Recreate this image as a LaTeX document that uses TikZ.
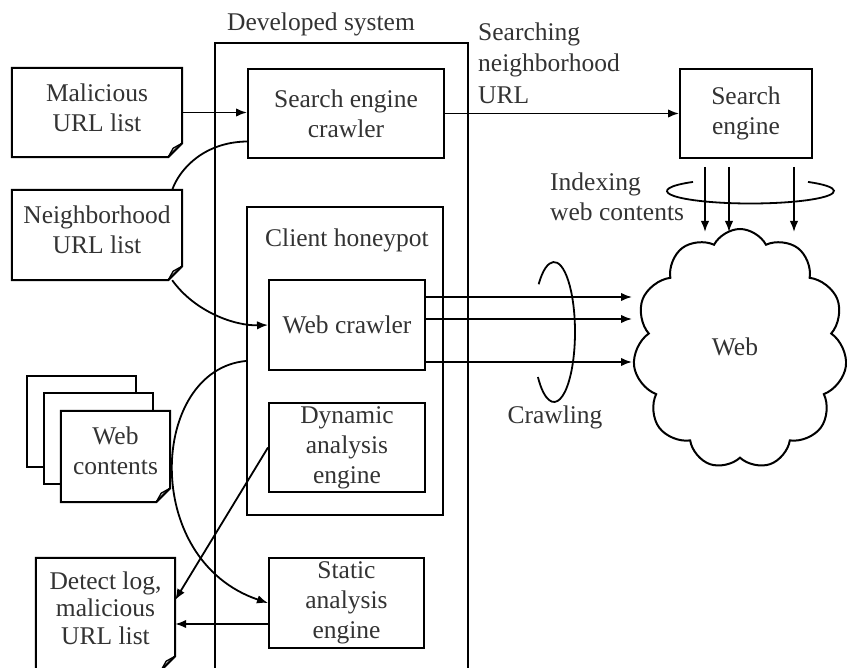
\documentclass[tikz,border=0pt]{standalone}
\usepackage{fontspec}
\setmainfont{Liberation Serif}
\usetikzlibrary{arrows.meta,shapes.symbols}
\begin{document}
\begin{tikzpicture}[x=1pt,y=-1pt,
  every node/.style={font=\fontsize{25.5}{30}\selectfont, text=black!80, align=center, inner sep=0pt},
  box/.style={draw, line width=2pt, text=black!80},
  sheet/.style={draw, line width=2pt, fill=white, minimum width=109pt, minimum height=91pt},
  ln/.style={line width=1.8pt},
  arr/.style={line width=1.8pt, -{Latex[length=11pt,width=8.5pt]}}]
\useasboundingbox (0,0) rectangle (847,668);
\clip (0,0) rectangle (847,668);

% containers
\node[box, minimum width=253pt, minimum height=657pt] (dev) at (341.5,371.5) {};
\node (devl) at (321,24) {Developed system};
\node[box, minimum width=196pt, minimum height=308pt] (hp) at (345,361) {};
\node (hpl) at (347,240) {Client honeypot};

% boxes
\node[box, minimum width=196pt, minimum height=89pt] (sec) at (346,113.5) {Search engine\\crawler};
\node[box, minimum width=156pt, minimum height=90pt] (wcr) at (347,325) {Web crawler};
\node[box, minimum width=156pt, minimum height=89pt] (dae) at (347,447.5) {Dynamic\\analysis\\engine};
\node[box, minimum width=155pt, minimum height=90pt] (sae) at (346.5,603) {Static\\analysis\\engine};
\node[box, minimum width=132pt, minimum height=89pt] (se) at (746,113.5) {Search\\engine};

% documents
\node[minimum width=170pt, minimum height=89pt] (mal) at (97,112.5) {};
\node[minimum width=170pt, minimum height=90pt] (nbr) at (97,235) {};
\node[sheet] (wcb1) at (81.5,421.5) {};
\node[sheet] (wcb2) at (98.5,438.5) {};
\node[minimum width=109pt, minimum height=91pt] (wcf) at (115.5,456.5) {};
\node[minimum width=139pt, minimum height=112pt] (det) at (105.5,614) {};
\foreach \n in {mal,nbr,wcf,det}{
  \draw[line width=2pt, fill=white, line join=miter] (\n.north west) -- (\n.north east) -- ([yshift=14pt]\n.south east) -- ([xshift=-14pt]\n.south east) -- (\n.south west) -- cycle;
  \draw[line width=1.4pt, line join=round] ([yshift=14pt]\n.south east) -- ([xshift=-9pt,yshift=9pt]\n.south east) -- ([xshift=-14pt]\n.south east);
}
\node (malt) at (97,108) {Malicious\\URL list};
\node (nbrt) at (97,230) {Neighborhood\\URL list};
\node (wcft) at (115.5,451) {Web\\contents};
\node[font=\fontsize{25.5}{27.5}\selectfont] (dett) at (105.5,608) {Detect log,\\malicious\\URL list};

% cloud
\node[cloud, draw, line width=2pt, cloud puffs=11, cloud puff arc=125, aspect=0.9,
      minimum width=214pt, minimum height=240pt] (web) at (740,349) {};
\node (webt) at (735,347) {Web};

% labels
\node[anchor=west, align=left, font=\fontsize{25.5}{31.5}\selectfont] (sl) at (478,63) {Searching\\neighborhood\\URL};
\node[anchor=west, align=left] (il) at (550,197) {Indexing\\web contents};
\node (crl) at (555,417) {Crawling};

% connectors
\draw[arr] (mal.east) -- (sec.west |- mal.east);
\draw[ln] ([yshift=-28pt]sec.west) .. controls (205,142) and (180,168) .. ([xshift=-10pt]nbr.north east);
\draw[arr] ([xshift=-10pt]nbr.south east) .. controls (195,312) and (235,326) .. (wcr.west);
\draw[arr] (hp.west) .. controls (150,370) and (140,560) .. (sae.west);
\draw[arr] (dae.west) -- ([yshift=14pt]det.east);
\draw[arr] ([yshift=-21pt]sae.west) -- ([yshift=-10pt]det.east);
\draw[arr] (sec.east) -- (se.west);

% indexing
\coordinate (e1) at (705,232);
\coordinate (e2) at (729,232);
\coordinate (e3) at (794,232);
\draw[arr] (se.south -| e1) ++(0,8) -- (e1);
\draw[arr] (se.south -| e2) ++(0,8) -- (e2);
\draw[arr] (se.south -| e3) ++(0,8) -- (e3);
\coordinate (ie) at (750.5,191);
\draw[ln] ([shift={(46.5:83.5pt and 12.5pt)}]ie) arc[start angle=46.5, end angle=-226.5, x radius=83.5pt, y radius=12.5pt];

% crawling
\coordinate (cl) at (632,0);
\coordinate (k1) at ([yshift=28pt]wcr.east);
\coordinate (k2) at ([yshift=6pt]wcr.east);
\coordinate (k3) at ([yshift=-37pt]wcr.east);
\draw[arr] (k1) -- (k1 -| cl);
\draw[arr] (k2) -- (k2 -| cl);
\draw[arr] (k3) -- (k3 -| cl);
\coordinate (ce) at (554,332);
\draw[ln] ([shift={(137:21pt and 70pt)}]ce) arc[start angle=137, end angle=-140, x radius=21pt, y radius=70pt];
\end{tikzpicture}
\end{document}
